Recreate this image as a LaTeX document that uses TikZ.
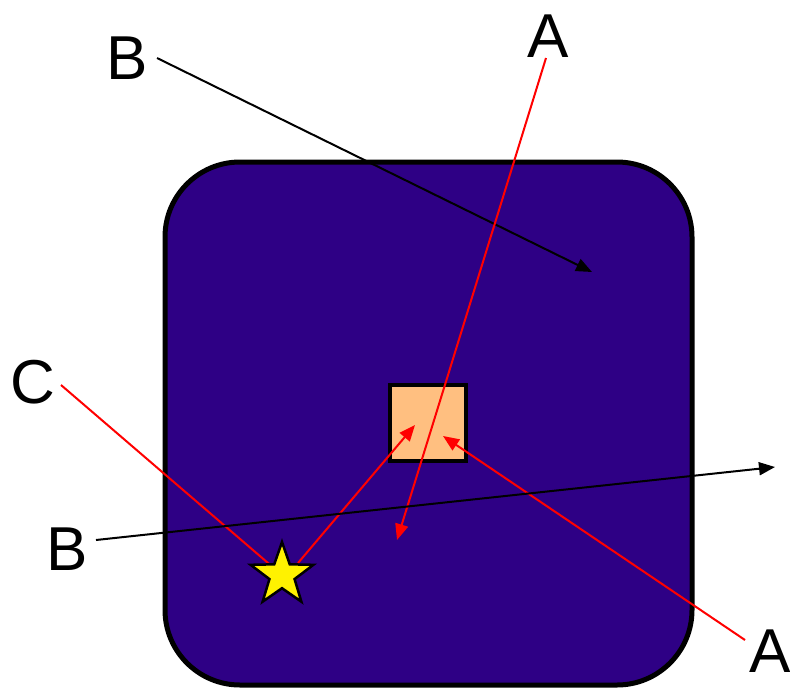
\documentclass[tikz,border=0pt]{standalone}
\usepackage{fontspec}
\setmainfont{Liberation Sans}
\definecolor{deepblue}{RGB}{46,0,133}
\definecolor{peach}{RGB}{255,191,128}
\usetikzlibrary{shapes.geometric, arrows.meta}

\begin{document}
\begin{tikzpicture}[
        x=1pt, y=-1pt,
        lbl/.style={font=\fontsize{62}{62}\selectfont, inner sep=0pt},
        ray/.style={-{Triangle[length=16pt, width=13pt]}, line width=2pt},
        cell/.style={rectangle, rounded corners=75pt, draw=black, line width=5pt, fill=deepblue},
        core/.style={rectangle, draw=black, line width=4.5pt, fill=peach, minimum size=76pt, inner sep=0pt},
        src/.style={star, star points=5, star point ratio=2.5, draw=black, line width=2.5pt, fill=yellow, minimum size=66pt, inner sep=0pt}
    ]
        \useasboundingbox (0,0) rectangle (790,689);

        % cell body
        \draw[cell] (165,162) rectangle (692,685);
        \node[core] (CORE) at (428,423) {};

        % labels
        \node[lbl] (B1) at (127,58) {B};
        \node[lbl] (A1) at (548,36) {A};
        \node[lbl] (C1) at (33,382) {C};
        \node[lbl] (B2) at (67,549) {B};
        \node[lbl] (A2) at (770,651) {A};

        % free ends
        \coordinate (B1out) at (157,58);
        \coordinate (A1out) at (546,58);
        \coordinate (C1out) at (61,385);
        \coordinate (B2out) at (96,540);
        \coordinate (A2out) at (745,640);
        \coordinate (STARPOS) at (282,575);
        \coordinate (STARtip) at (298,563);
        \coordinate (B1end) at (592,272);
        \coordinate (A1end) at (397,540);
        \coordinate (B2end) at (775,467);
        \coordinate (COREsw) at (415,425);
        \coordinate (COREse) at (443,436);

        % rays
        \draw[ray] (B1out) -- (B1end);
        \draw[ray, red] (A1out) -- (A1end);
        \draw[red, line width=2pt] (C1out) -- (STARPOS);
        \draw[ray, red] (STARtip) -- (COREsw);
        \draw[ray, red] (A2out) -- (COREse);
        \draw[ray] (B2out) -- (B2end);

        % source
        \node[src] (STAR) at (STARPOS) {};
    \end{tikzpicture}
\end{document}
